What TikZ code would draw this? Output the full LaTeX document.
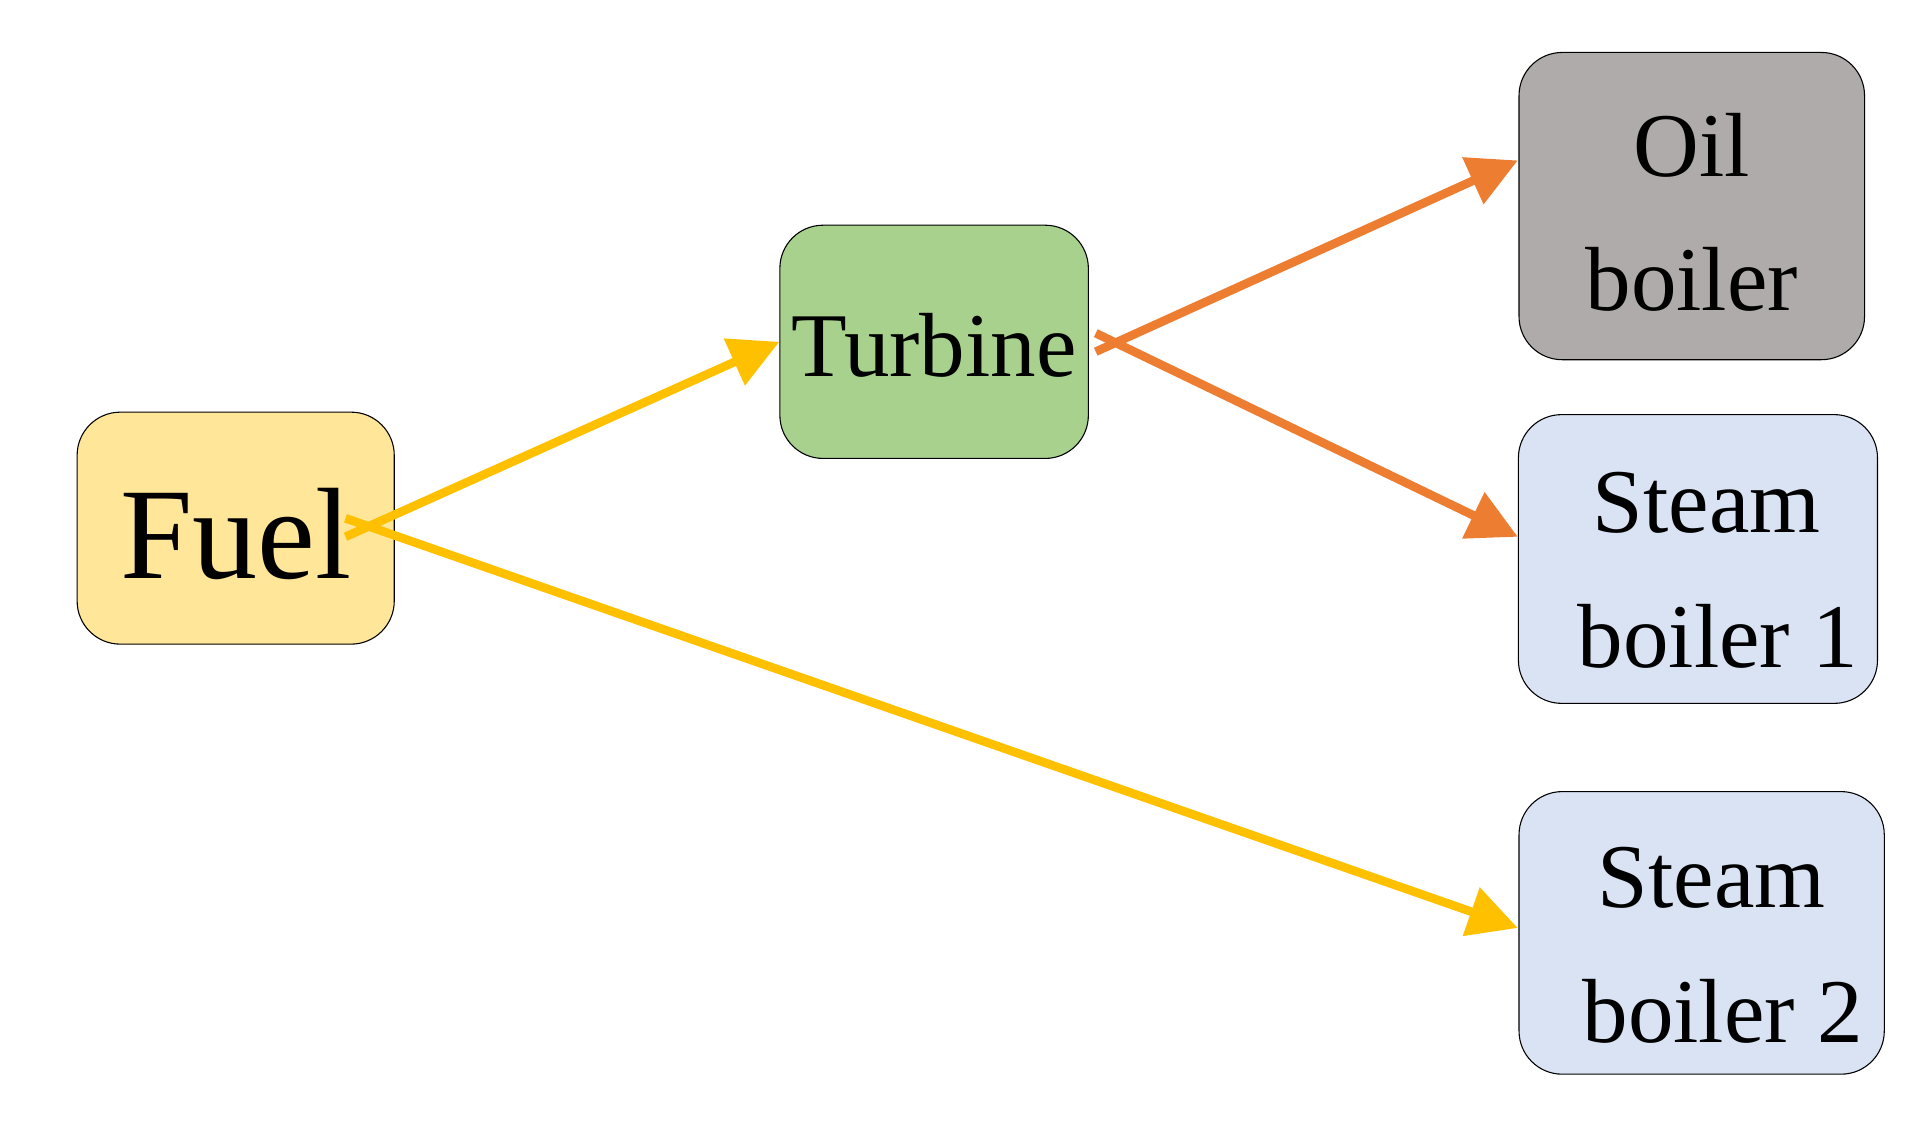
\documentclass[tikz,border=0pt]{standalone}
\usepackage{fontspec}
\setmainfont{Liberation Serif}
\usetikzlibrary{arrows.meta}
\definecolor{yel}{HTML}{FFC000}
\definecolor{ora}{HTML}{ED7D31}
\definecolor{fuelc}{HTML}{FFE699}
\definecolor{turbc}{HTML}{A9D18E}
\definecolor{oilc}{HTML}{AFABAB}
\definecolor{steamc}{HTML}{DAE3F3}
\begin{document}
\begin{tikzpicture}[x=0.2mm,y=-0.2mm,
  box/.style={draw=black,line width=0.5pt,rounded corners=7mm,inner sep=0pt,align=center},
  txt/.style={font=\fontsize{42}{62}\selectfont},
  arr/.style={line width=1.4mm,-{Triangle[length=8mm,width=8mm]}}]
\useasboundingbox (0,0) rectangle (1560,909);
\node[box,fill=fuelc,minimum width=51.4mm,minimum height=37.6mm] (fuel) at (191,428) {};
\node[font=\fontsize{60}{70}\selectfont] (fuelt) at (191,433) {Fuel};
\node[box,fill=turbc,minimum width=50mm,minimum height=37.8mm] (turb) at (757,277) {};
\node[txt] (turbt) at (757,280) {Turbine};
\node[box,fill=oilc,minimum width=56mm,minimum height=49.8mm] (oil) at (1371,167) {};
\node[txt,align=center] (oilt) at (1371,172) {Oil\\boiler};
\node[box,fill=steamc,minimum width=58.2mm,minimum height=46.8mm] (s1) at (1376,453) {};
\node[txt,align=center] (s1t) at (1383,462) {Steam\\ \ boiler 1};
\node[box,fill=steamc,minimum width=59.2mm,minimum height=45.8mm] (s2) at (1379,756) {};
\node[txt,align=center] (s2t) at (1387,766) {Steam\\ \ boiler 2};
\coordinate (f1) at (280,435);
\coordinate (f2) at (280,420);
\coordinate (t1) at (888,285);
\coordinate (t2) at (888,270);
\draw[arr,yel] (f1) -- (turb.west);
\draw[arr,yel] (f2) -- (1230,752) coordinate (e2);
\draw[arr,ora] (t1) -- (1230,130) coordinate (e3);
\draw[arr,ora] (t2) -- (1230,435) coordinate (e4);
\end{tikzpicture}
\end{document}
